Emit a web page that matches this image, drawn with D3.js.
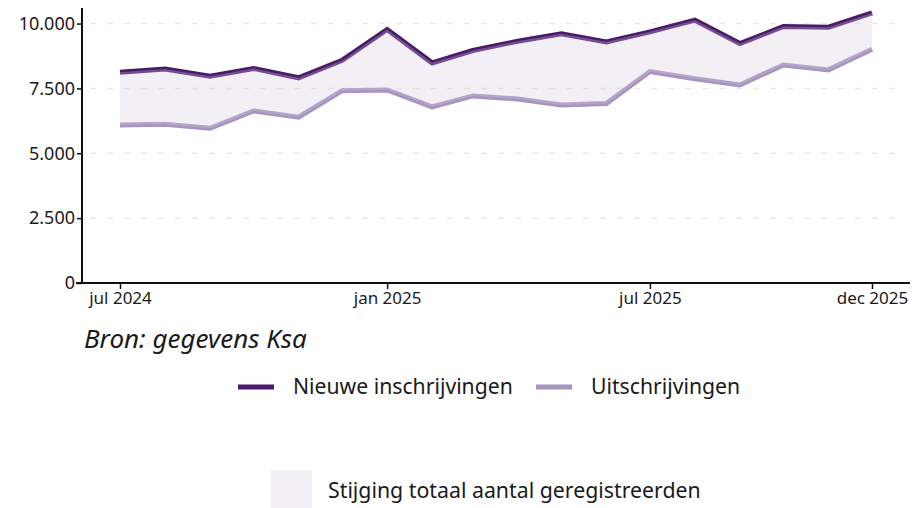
<!DOCTYPE html>
<html>
<head>
<meta charset="utf-8">
<script src="https://cdn.jsdelivr.net/npm/d3@7"></script>
<style>
  body { margin: 0; background: #fff; }
  svg text { font-family: "Noto Sans", sans-serif; fill: #1a1a1a; }
</style>
</head>
<body>
<div id="chart"></div>
<script>
// monthly data, jul 2024 - dec 2025
var months = ["2024-07", "2024-08", "2024-09", "2024-10", "2024-11", "2024-12",
              "2025-01", "2025-02", "2025-03", "2025-04", "2025-05", "2025-06",
              "2025-07", "2025-08", "2025-09", "2025-10", "2025-11", "2025-12"];
var nieuwe = [8120, 8250, 7970, 8270, 7910, 8580, 9770, 8485, 8960,
              9320, 9610, 9295, 9680, 10130, 9230, 9890, 9860, 10410];
var uit = [6090, 6120, 5965, 6630, 6390, 7415, 7440, 6790, 7210,
           7095, 6865, 6915, 8150, 7870, 7635, 8405, 8215, 9010];
var yTicks = [0, 2500, 5000, 7500, 10000];
var xTicks = ["2024-07", "2025-01", "2025-07", "2025-12"];
var seriesNames = ["Nieuwe inschrijvingen", "Uitschrijvingen"];
var bandName = "Stijging totaal aantal geregistreerden";
var bron = "Bron: gegevens Ksa";

var width = 913, height = 508;
var colNieuwe = "#4a1a6a", colUit = "#a894c0", colBand = "#d4cade";

var parseMonth = d3.timeParse("%Y-%m");
var nl = d3.formatLocale({decimal: ",", thousands: ".", grouping: [3], currency: ["€", ""]});
var fmtNum = nl.format(",");
var monthNames = ["jan", "feb", "mrt", "apr", "mei", "jun", "jul", "aug", "sep", "okt", "nov", "dec"];
var fmtMonth = function(d) { return monthNames[d.getMonth()] + " " + d.getFullYear(); };

var data = months.map(function(m, i) {
  return {date: parseMonth(m), nieuwe: nieuwe[i], uit: uit[i]};
});

var svg = d3.select("#chart")
  .append("svg")
    .attr("width", width)
    .attr("height", height);

var x = d3.scaleTime()
  .domain([parseMonth(months[0]), parseMonth(months[months.length - 1])])
  .range([120, 872]);

var y = d3.scaleLinear()
  .domain([0, 10600])
  .range([283, 8]);

// gridlines
svg.append("g")
  .selectAll("line")
  .data(yTicks.filter(function(d) { return d > 0; }))
  .enter()
  .append("line")
    .attr("x1", 90)
    .attr("x2", 905)
    .attr("y1", function(d) { return y(d); })
    .attr("y2", function(d) { return y(d); })
    .attr("stroke", "#e9e9e9")
    .attr("stroke-width", 1.5)
    .attr("stroke-dasharray", "6,11");

// lines first, band goes on top with transparency
var lineN = d3.line()
  .x(function(d) { return x(d.date); })
  .y(function(d) { return y(d.nieuwe); });
var lineU = d3.line()
  .x(function(d) { return x(d.date); })
  .y(function(d) { return y(d.uit); });

svg.append("path")
  .datum(data)
  .attr("fill", "none")
  .attr("stroke", colUit)
  .attr("stroke-width", 5)
  .attr("d", lineU);

svg.append("path")
  .datum(data)
  .attr("fill", "none")
  .attr("stroke", colNieuwe)
  .attr("stroke-width", 5)
  .attr("d", lineN);

svg.append("path")
  .datum(data)
  .attr("fill", colBand)
  .attr("fill-opacity", 0.3)
  .attr("d", d3.area()
    .x(function(d) { return x(d.date); })
    .y0(function(d) { return y(d.uit); })
    .y1(function(d) { return y(d.nieuwe); })
  );

// y axis
var yAxis = svg.append("g")
  .attr("transform", "translate(82,0)")
  .call(d3.axisLeft(y).tickValues(yTicks).tickFormat(fmtNum).tickSize(5).tickSizeOuter(0));
yAxis.select(".domain").remove();
yAxis.selectAll("line").attr("stroke", "#111").attr("stroke-width", 1.5);
yAxis.selectAll("text")
  .attr("x", -7)
  .style("font-size", "18px")
  .style("font-family", null);
svg.append("line")
  .attr("x1", 82).attr("x2", 82)
  .attr("y1", y.range()[1]).attr("y2", y(0))
  .attr("stroke", "#111")
  .attr("stroke-width", 2);

// x axis
var xAxis = svg.append("g")
  .attr("transform", "translate(0," + y(0) + ")")
  .call(d3.axisBottom(x).tickValues(xTicks.map(parseMonth)).tickFormat(fmtMonth).tickSize(6).tickSizeOuter(0));
xAxis.select(".domain").remove();
xAxis.selectAll("line").attr("stroke", "#111").attr("stroke-width", 1.5);
xAxis.selectAll("text")
  .attr("y", 9)
  .style("font-size", "17px")
  .style("font-family", null);
svg.append("line")
  .attr("x1", 76).attr("x2", 910)
  .attr("y1", y(0)).attr("y2", y(0))
  .attr("stroke", "#111")
  .attr("stroke-width", 2);

// source
svg.append("text")
  .attr("x", 84)
  .attr("y", 348)
  .style("font-size", "26px")
  .style("font-style", "italic")
  .text(bron);

// legend
var legItems = [
  {name: seriesNames[0], color: colNieuwe, x: 238},
  {name: seriesNames[1], color: colUit, x: 536}
];
var leg = svg.append("g");
leg.selectAll("line")
  .data(legItems)
  .enter()
  .append("line")
    .attr("x1", function(d) { return d.x; })
    .attr("x2", function(d) { return d.x + 36; })
    .attr("y1", 387)
    .attr("y2", 387)
    .attr("stroke", function(d) { return d.color; })
    .attr("stroke-width", 5);
leg.selectAll("text")
  .data(legItems)
  .enter()
  .append("text")
    .attr("x", function(d) { return d.x + 55; })
    .attr("y", 387)
    .attr("dy", "0.35em")
    .style("font-size", "21.2px")
    .text(function(d) { return d.name; });

svg.append("rect")
  .attr("x", 271)
  .attr("y", 470)
  .attr("width", 41)
  .attr("height", 41)
  .attr("fill", colBand)
  .attr("fill-opacity", 0.3);
svg.append("text")
  .attr("x", 328)
  .attr("y", 491)
  .attr("dy", "0.35em")
  .style("font-size", "21.3px")
  .text(bandName);
</script>
</body>
</html>
